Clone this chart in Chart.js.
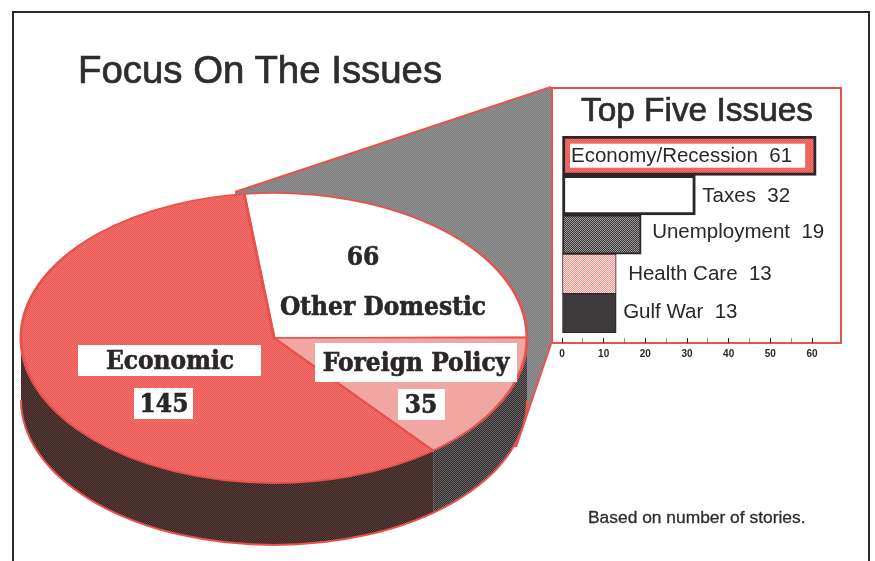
<!DOCTYPE html>
<html lang="en">
<head>
<meta charset="utf-8">
<title>Focus On The Issues</title>
<script src="https://cdn.jsdelivr.net/npm/chart.js@4"></script>
<style>
  html, body { margin: 0; padding: 0; background: #fff; }
  body { position: relative; width: 875px; height: 561px; overflow: hidden; font-family: "Liberation Sans", Arial, sans-serif; color: #2e2c2c; }
  canvas { position: absolute; }
  #frame { position: absolute; left: 12px; top: 11px; width: 858px; height: 560px; box-sizing: border-box; border: 2px solid #2a2a2a; }
  #pie-chart { left: 0; top: 0; z-index: 1; }
  #panel { position: absolute; left: 551px; top: 87px; width: 291px; height: 257px; box-sizing: border-box; border: 2px solid #e8524e; background: #fff; z-index: 2; }
  #bar-chart { left: 551px; top: 87px; z-index: 3; }
  .text { position: absolute; white-space: nowrap; z-index: 4; }
  #title { left: 78px; top: 47px; font-size: 38.4px; line-height: 46px; -webkit-text-stroke: 0.7px #2e2c2c; }
  #panel-title { left: 581px; top: 90px; font-size: 33.4px; line-height: 40px; -webkit-text-stroke: 0.7px #2e2c2c; }
  #note { left: 588px; top: 507px; font-size: 17.4px; line-height: 20px; -webkit-text-stroke: 0.3px #2e2c2c; }
</style>
</head>
<body>
<div id="frame"></div>
<div class="text" id="title">Focus On The Issues</div>
<canvas id="pie-chart" width="875" height="561"></canvas>
<div id="panel"></div>
<canvas id="bar-chart" width="291" height="275"></canvas>
<div class="text" id="panel-title">Top Five Issues</div>
<div class="text" id="note">Based on number of stories.</div>

<script>
// ==============================
// DATA
// ==============================
const pieCategories = ["Other Domestic", "Foreign Policy", "Economic"];
const pieValues = [66, 35, 145];

const issueCategories = ["Economy/Recession", "Taxes", "Unemployment", "Health Care", "Gulf War"];
const issueValues = [61, 32, 19, 13, 13];
const issueTicks = [0, 10, 20, 30, 40, 50, 60];

// ==============================
// STYLE
// ==============================
const RED = "#e8524e";
const INK = "#2b2727";

// pie geometry: drawn as a circle by the library, then flattened to an ellipse
const PIE_RADIUS = 253;
const PIE_CENTER_Y = 338;
const PIE_RADIUS_Y = 145;
const PIE_DEPTH = 62;
const FLATTEN = PIE_RADIUS_Y / PIE_RADIUS;

// wedge joining the pie to the panel
const calloutPoints = [[235, 192], [551, 87], [551, 344], [516, 447], [400, 447], [235, 300]];

// white label boxes over the pie: [left, top, width, height], null = no box
const pieNameBoxes = [
  { box: null, x: 383, y: 308 },
  { box: [315, 343, 202, 39], x: 416, y: 364 },
  { box: [78, 345, 183, 31], x: 170, y: 362 }
];
const pieValueBoxes = [
  { box: null, x: 363, y: 258 },
  { box: [398, 389, 47, 31], x: 421, y: 406 },
  { box: [134, 388, 59, 31], x: 164, y: 405 }
];

// label placement beside each bar: px past the bar end, px off the bar middle
const issueLabelGaps = [0, 7, 11, 12, 7];
const issueLabelShifts = [1, 1, -2, 0, -1];

function checker(colorA, colorB, yScale = 1) {
  const tile = document.createElement("canvas");
  tile.width = tile.height = 2;
  const c = tile.getContext("2d");
  c.fillStyle = colorA;
  c.fillRect(0, 0, 2, 2);
  c.fillStyle = colorB;
  c.fillRect(0, 0, 1, 1);
  c.fillRect(1, 1, 1, 1);
  const pattern = c.createPattern(tile, "repeat");
  if (yScale !== 1) pattern.setTransform(new DOMMatrix().scale(1, yScale));
  return pattern;
}

// ==============================
// PIE PLUGIN (callout, side wall, flatten, labels)
// ==============================
function drawCallout(ctx) {
  ctx.beginPath();
  calloutPoints.forEach(([x, y], i) => (i ? ctx.lineTo(x, y) : ctx.moveTo(x, y)));
  ctx.closePath();
  ctx.fillStyle = checker("#7e7e7e", "#909090");
  ctx.fill();
  ctx.strokeStyle = RED;
  ctx.lineWidth = 2;
  ctx.beginPath();
  ctx.moveTo(...calloutPoints[0]);
  ctx.lineTo(...calloutPoints[1]);
  ctx.moveTo(...calloutPoints[2]);
  ctx.lineTo(...calloutPoints[3]);
  ctx.stroke();
}

function drawWall(ctx, arcs) {
  const wallFills = [null, checker("#302e2e", "#6a6564"), checker("#38221f", "#5c403b")];
  const cx = arcs[0].x;
  arcs.forEach((arc, i) => {
    const from = Math.max(arc.startAngle, 0);
    const to = Math.min(arc.endAngle, Math.PI);
    if (to <= from || !wallFills[i]) return;
    ctx.beginPath();
    ctx.ellipse(cx, PIE_CENTER_Y, PIE_RADIUS, PIE_RADIUS_Y, 0, from, to);
    ctx.ellipse(cx, PIE_CENTER_Y + PIE_DEPTH, PIE_RADIUS, PIE_RADIUS_Y, 0, to, from, true);
    ctx.closePath();
    ctx.fillStyle = wallFills[i];
    ctx.fill();
  });
  // outer rim of the wall
  ctx.beginPath();
  ctx.ellipse(cx, PIE_CENTER_Y + PIE_DEPTH, PIE_RADIUS, PIE_RADIUS_Y, 0, 0, Math.PI);
  ctx.strokeStyle = RED;
  ctx.lineWidth = 2;
  ctx.stroke();
}

function drawPieLabel(ctx, text, spot) {
  if (spot.box) {
    ctx.fillStyle = "#fff";
    ctx.fillRect(...spot.box);
  }
  ctx.font = 'bold 26px "DejaVu Serif Condensed", "DejaVu Serif"';
  ctx.textAlign = "center";
  ctx.textBaseline = "middle";
  ctx.fillStyle = INK;
  ctx.strokeStyle = INK;
  ctx.lineWidth = 0.6;
  ctx.fillText(text, spot.x, spot.y);
  ctx.strokeText(text, spot.x, spot.y);
}

const pie3dPlugin = {
  id: "pie3d",
  beforeDatasetsDraw(chart) {
    const ctx = chart.ctx;
    const arcs = chart.getDatasetMeta(0).data;
    drawCallout(ctx);
    drawWall(ctx, arcs);
    ctx.save();
    ctx.translate(0, PIE_CENTER_Y);
    ctx.scale(1, FLATTEN);
    ctx.translate(0, -arcs[0].y);
  },
  afterDatasetsDraw(chart) {
    const ctx = chart.ctx;
    ctx.restore();
    ctx.save();
    pieCategories.forEach((name, i) => {
      drawPieLabel(ctx, name, pieNameBoxes[i]);
      drawPieLabel(ctx, String(pieValues[i]), pieValueBoxes[i]);
    });
    ctx.restore();
  }
};

new Chart(document.getElementById("pie-chart"), {
  type: "pie",
  data: {
    labels: pieCategories,
    datasets: [{
      data: pieValues,
      clip: false,
      backgroundColor: ["#ffffff", checker("#efa09b", "#f4aca8", 1 / FLATTEN), checker("#ea5551", "#f27571", 1 / FLATTEN)],
      borderColor: RED,
      borderWidth: 3
    }]
  },
  options: {
    responsive: false,
    animation: false,
    events: [],
    rotation: -6.8,
    radius: PIE_RADIUS,
    layout: { padding: { left: 21, right: 348, top: 28, bottom: 27 } },
    plugins: { legend: { display: false }, tooltip: { enabled: false } }
  },
  plugins: [pie3dPlugin]
});

// ==============================
// TOP FIVE BAR CHART
// ==============================
const issueLabelsPlugin = {
  id: "issueLabels",
  afterDatasetsDraw(chart) {
    const ctx = chart.ctx;
    const x0 = chart.scales.x.getPixelForValue(0);
    ctx.save();
    ctx.font = '20.5px "Liberation Sans"';
    ctx.textBaseline = "middle";
    ctx.fillStyle = INK;
    chart.getDatasetMeta(0).data.forEach((bar, i) => {
      const text = `${issueCategories[i]}  ${issueValues[i]}`;
      const y = bar.y + issueLabelShifts[i];
      if (i === 0) {
        // longest bar carries its label inside on a white strip
        ctx.fillStyle = "#fff";
        ctx.fillRect(x0 + 8, bar.y - 12, bar.x - x0 - 19, 24);
        ctx.fillStyle = INK;
        ctx.fillText(text, x0 + 9, y);
      } else {
        ctx.fillText(text, bar.x + issueLabelGaps[i], y);
      }
    });
    ctx.restore();
  }
};

new Chart(document.getElementById("bar-chart"), {
  type: "bar",
  data: {
    labels: issueCategories,
    datasets: [{
      data: issueValues,
      barPercentage: 1,
      categoryPercentage: 1,
      backgroundColor: [
        checker("#ea5551", "#f27571"),
        "#ffffff",
        checker("#3a3838", "#9c9a9a"),
        checker("#f19490", "#fde2df"),
        "#3e3a3b"
      ],
      borderColor: INK,
      borderSkipped: false,
      borderWidth: [3, 3, 2, 1, 1]
    }]
  },
  options: {
    indexAxis: "y",
    responsive: false,
    animation: false,
    events: [],
    layout: { padding: { left: 11, right: 5, top: 49, bottom: 0 } },
    scales: {
      x: {
        type: "linear",
        min: 0,
        max: 66,
        afterBuildTicks(scale) {
          scale.ticks = scale.ticks.filter(t => t.value % 5 === 0);
        },
        afterFit(scale) {
          scale.height = 29;
        },
        border: { display: false },
        grid: {
          drawOnChartArea: false,
          tickLength: 10,
          // only the lower half of the tick shows, just above the panel edge
          tickBorderDash: [0, 5, 5],
          tickColor: INK,
          tickWidth: ctx => (ctx.tick && ctx.tick.value % 10 === 0 ? 1 : 0.5)
        },
        ticks: {
          stepSize: 5,
          autoSkip: false,
          maxRotation: 0,
          padding: 5,
          color: INK,
          font: { family: '"Liberation Sans"', size: 10, weight: "bold" },
          callback: v => (issueTicks.includes(v) ? String(v) : "")
        }
      },
      y: { display: false }
    },
    plugins: { legend: { display: false }, tooltip: { enabled: false } }
  },
  plugins: [issueLabelsPlugin]
});
</script>
</body>
</html>
